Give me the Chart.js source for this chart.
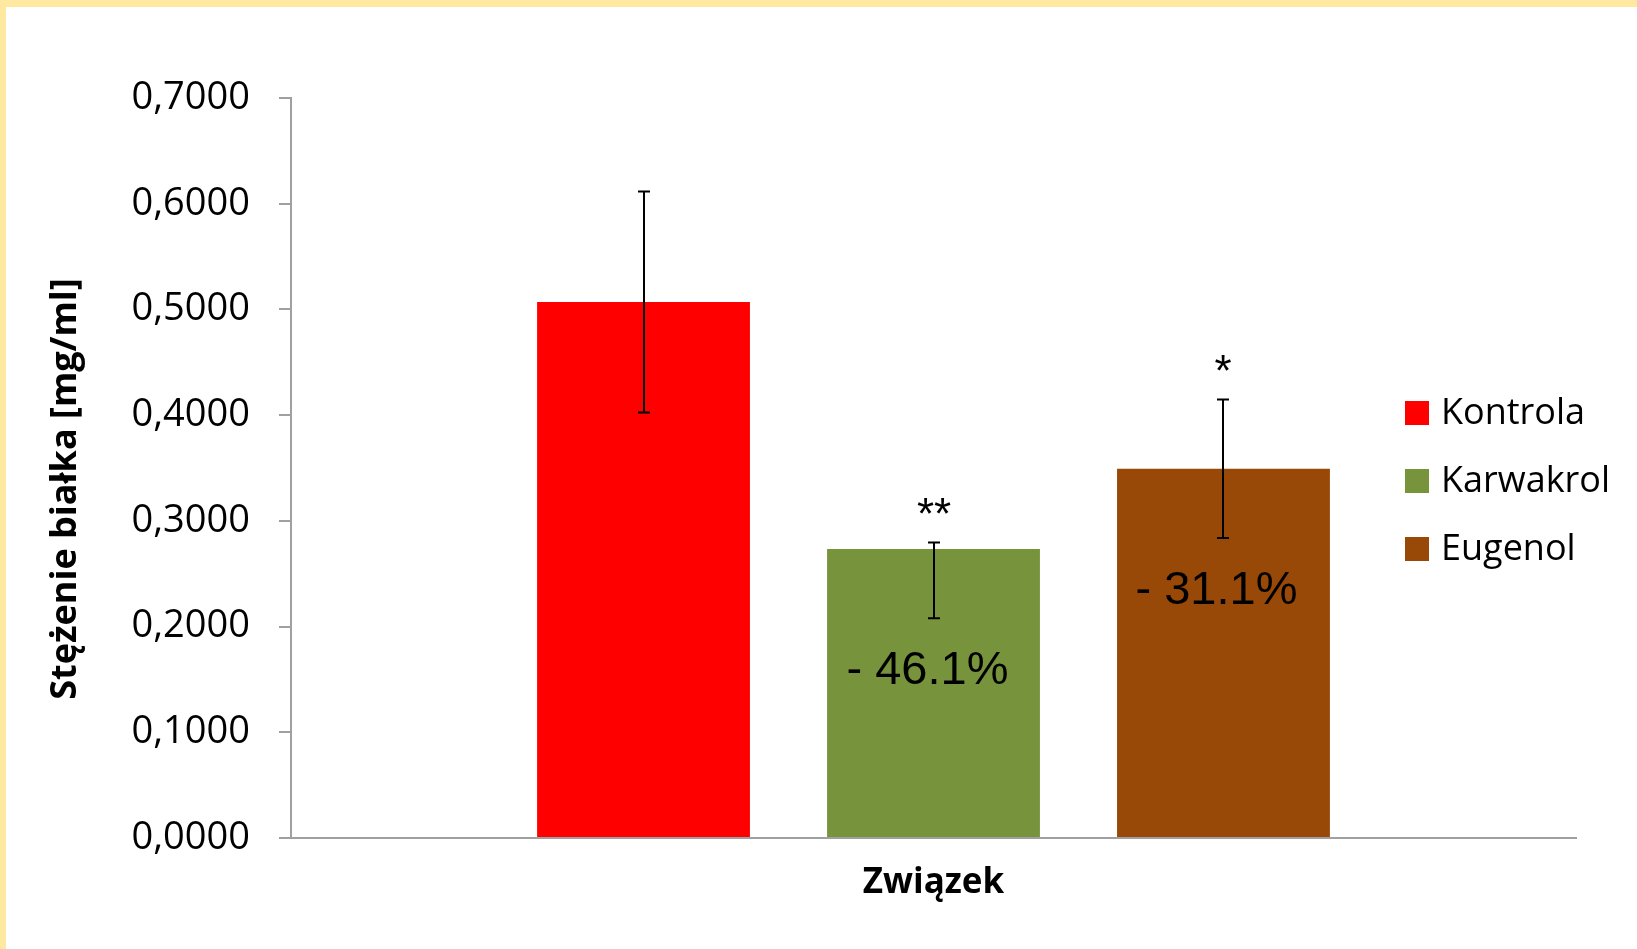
<!DOCTYPE html>
<html><head><meta charset="utf-8">
<script src="https://cdn.jsdelivr.net/npm/chart.js@4/dist/chart.umd.min.js"></script>
<style>html,body{margin:0;padding:0;background:#fff;overflow:hidden}canvas{display:block}</style>
</head><body><canvas id="c" width="1637" height="949"></canvas>
<script>
const categories = [''];
const seriesNames = ['Kontrola', 'Karwakrol', 'Eugenol'];
const seriesValues = [0.5070, 0.2733, 0.3494];
const errPlus = [0.1045, 0.0063, 0.0655];
const errMinus = [0.1045, 0.0655, 0.0655];
const sigLabels = ['', '**', '*'];
const changeLabels = ['', '- 46.1% ', '- 31.1% '];
const seriesColors = ['#FF0000', '#77933C', '#984807'];
const yTickLabels = ['0,0000', '0,1000', '0,2000', '0,3000', '0,4000', '0,5000', '0,6000', '0,7000'];
const xTitle = 'Związek';
const yTitle = 'Stężenie białka [mg/ml]';

const AXIS = '#A0A0A0';

const decor = {
  id: 'decor',
  beforeDraw(chart) {
    const ctx = chart.ctx;
    ctx.save();
    ctx.fillStyle = '#FFFFFF';
    ctx.fillRect(0, 0, chart.width, chart.height);
    ctx.restore();
  },
  afterDatasetsDraw(chart) {
    const ctx = chart.ctx;
    const ys = chart.scales.y;
    ctx.save();
    seriesValues.forEach((v, i) => {
      const bar = chart.getDatasetMeta(i).data[0];
      const x = Math.round(bar.x);
      const yt = ys.getPixelForValue(v + errPlus[i]);
      const yb = ys.getPixelForValue(v - errMinus[i]);
      ctx.strokeStyle = '#000';
      ctx.lineWidth = 2;
      ctx.beginPath();
      ctx.moveTo(x, yt); ctx.lineTo(x, yb);
      ctx.moveTo(x - 6, yt); ctx.lineTo(x + 6, yt);
      ctx.moveTo(x - 6, yb); ctx.lineTo(x + 6, yb);
      ctx.stroke();
      ctx.fillStyle = '#000';
      ctx.textAlign = 'center';
      if (sigLabels[i]) {
        ctx.font = '44px "Liberation Sans", Arial, sans-serif';
        ctx.textBaseline = 'alphabetic';
        ctx.fillText(sigLabels[i], x, yt - 13);
      }
      if (changeLabels[i]) {
        ctx.font = '47px "Liberation Sans", Arial, sans-serif';
        ctx.textBaseline = 'middle';
        ctx.fillText(changeLabels[i], x, ys.getPixelForValue(v) + 122);
      }
    });
    ctx.restore();
  },
  afterDraw(chart) {
    const ctx = chart.ctx;
    const ca = chart.chartArea;
    ctx.save();
    // frame
    ctx.fillStyle = '#FFE8A0';
    ctx.fillRect(0, 0, chart.width, 7);
    ctx.fillRect(0, 0, 6, chart.height);
    // legend
    ctx.font = '36px "Open Sans", sans-serif';
    ctx.textAlign = 'left';
    ctx.textBaseline = 'middle';
    seriesNames.forEach((n, i) => {
      const cy = 413 + i * 68;
      ctx.fillStyle = seriesColors[i];
      ctx.fillRect(1405, cy - 12, 24, 24);
      ctx.fillStyle = '#000';
      ctx.fillText(n, 1441, cy + 1);
    });
    // axis titles
    ctx.font = 'bold 35px "Open Sans", sans-serif';
    ctx.textAlign = 'center';
    ctx.textBaseline = 'middle';
    ctx.fillText(xTitle, (ca.left + ca.right) / 2, 883);
    ctx.translate(66, 489);
    ctx.rotate(-Math.PI / 2);
    ctx.font = 'bold 36px "Open Sans", sans-serif';
    ctx.fillText(yTitle, 0, 0);
    ctx.restore();
  }
};

new Chart(document.getElementById('c'), {
  type: 'bar',
  data: {
    labels: categories,
    datasets: seriesNames.map((n, i) => ({
      label: n,
      data: [seriesValues[i]],
      backgroundColor: seriesColors[i],
      borderWidth: 0,
      categoryPercentage: 0.677,
      barPercentage: 0.734
    }))
  },
  options: {
    responsive: false,
    animation: false,
    devicePixelRatio: 1,
    layout: { padding: { top: 98, right: 61, left: 0, bottom: 0 } },
    plugins: { legend: { display: false }, tooltip: { enabled: false } },
    scales: {
      x: {
        grid: { display: false },
        border: { display: true, color: AXIS, width: 2 },
        ticks: { display: false },
        afterFit: s => { s.height = 111; }
      },
      y: {
        min: 0, max: 0.7,
        ticks: {
          stepSize: 0.1,
          padding: 29,
          color: '#000',
          font: { family: '"Open Sans", sans-serif', size: 38 },
          callback: (v, i) => yTickLabels[i]
        },
        grid: { display: true, drawOnChartArea: false, drawTicks: true, tickLength: 12, color: AXIS, lineWidth: 2 },
        border: { display: true, color: AXIS, width: 2 },
        afterFit: s => { s.width = 291; }
      }
    }
  },
  plugins: [decor]
});
</script>
</body></html>
